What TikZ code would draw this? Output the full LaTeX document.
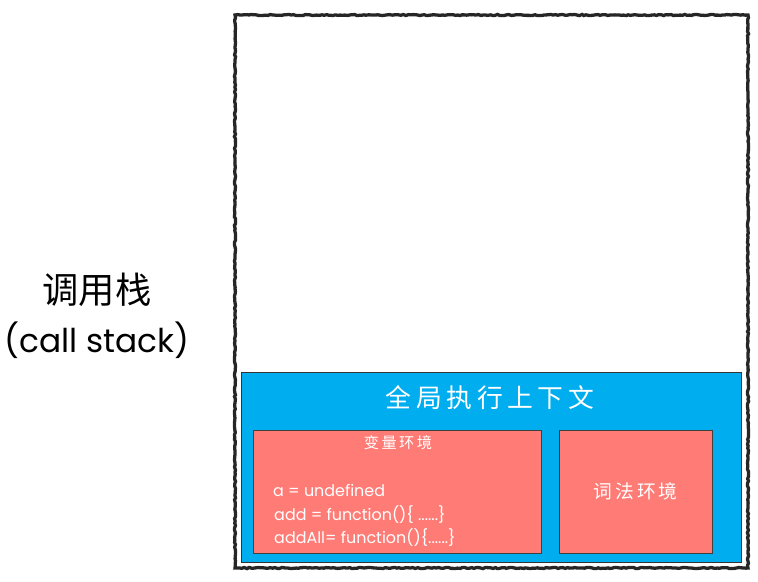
\documentclass[tikz,border=0pt]{standalone}
\usepackage{fontspec}
\setmainfont{Poppins}
\newfontfamily\cjk{Noto Sans CJK SC}
\usetikzlibrary{positioning,decorations.pathmorphing}

\begin{document}
\begin{tikzpicture}[x=0.03cm,y=-0.03cm]

		\tikzset{rough/.style={draw=black!85,line width=2.8pt,decorate,decoration={random steps,segment length=2pt,amplitude=0.5pt}}}
		\tikzset{ctx/.style={draw=black!80,line width=0.8pt,fill={rgb,255:red,0;green,174;blue,239},inner sep=0pt}}
		\tikzset{env/.style={draw=black!75,line width=0.7pt,fill={rgb,255:red,255;green,124;blue,118},inner sep=0pt}}
		\tikzset{code/.style={anchor=west,text=white,inner sep=0pt,font=\fontsize{13.6}{15}\selectfont}}

		\useasboundingbox (0,0) rectangle (758,581);

		% Call stack frame.
		\path[rough] (235,15) rectangle (748,568);

		\node[text=black,font=\cjk\fontsize{31}{34}\selectfont] (name) at (97,290) {调用栈};
		\node[text=black,font=\fontsize{28}{32}\selectfont] (eng) at (97,340) {(call stack)};

		% Global context.
		\node[ctx,minimum width=500*0.03cm,minimum height=190*0.03cm] (global) at (491,467) {};
		\node[text=white,font=\cjk\fontsize{22}{26}\selectfont\addfontfeature{LetterSpace=18}] (title) at (490,398) {全局执行上下文};

		\node[env,minimum width=288*0.03cm,minimum height=123*0.03cm] (var) at (397,491.5) {};
		\node[env,minimum width=153*0.03cm,minimum height=123*0.03cm] (lex) at (635.5,491.5) {};

		\node[text=white,font=\cjk\fontsize{13}{15}\selectfont\addfontfeature{LetterSpace=16}] (vartitle) at (398,443) {变量环境};
		\node[text=white,font=\cjk\fontsize{16}{18}\selectfont\addfontfeature{LetterSpace=16}] (lextitle) at (lex) {词法环境};

		\node[code] (l1) at (273,490) {a = undefined};
		\node[code] (l2) at (274,515) {add = function()\{ ......\}};
		\node[code] (l3) at (274,538) {addAll= function()\{......\}};

\end{tikzpicture}
\end{document}
